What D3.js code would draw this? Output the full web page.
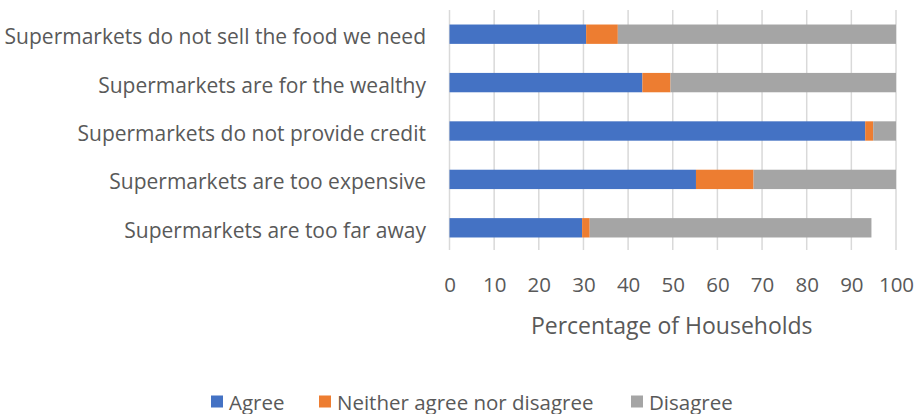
<!DOCTYPE html>
<html>
<head>
<meta charset="utf-8">
<script src="https://cdn.jsdelivr.net/npm/d3@7"></script>
<style>
  html, body { margin: 0; padding: 0; background: #fff; }
  svg text { font-family: "Open Sans", "Noto Sans", sans-serif; fill: #595959; }
</style>
</head>
<body>
<svg id="chart" width="915" height="414"></svg>
<script>
const categories = [
  "Supermarkets do not sell the food we need",
  "Supermarkets are for the wealthy",
  "Supermarkets do not provide credit",
  "Supermarkets are too expensive",
  "Supermarkets are too far away"
];
const seriesNames = ["Agree", "Neither agree nor disagree", "Disagree"];
const agree    = [30.6, 43.2, 93.1, 55.2, 29.7];
const neither  = [7.1, 6.3, 1.8, 12.9, 1.7];
const disagree = [62.3, 50.5, 5.1, 31.9, 63.1];
const xTicks = [0, 10, 20, 30, 40, 50, 60, 70, 80, 90, 100];
const colors = ["#4472c4", "#ed7d31", "#a5a5a5"];

const svg = d3.select("#chart");
const plot = { left: 449.5, right: 896, top: 10, bottom: 252 };

const x = d3.scaleLinear().domain([0, 100]).range([plot.left, plot.right]);
const y = d3.scaleBand().domain(categories).range([plot.top, plot.bottom]).paddingInner(0.6).paddingOuter(0.3);

// vertical gridlines
svg.append("g").selectAll("line").data(xTicks).join("line")
  .attr("x1", d => x(d)).attr("x2", d => x(d))
  .attr("y1", plot.top).attr("y2", plot.bottom - 2)
  .attr("stroke", "#d9d9d9").attr("stroke-width", 1.5);

// stacked bars
const rows = categories.map((c, i) => ({ cat: c, Agree: agree[i], "Neither agree nor disagree": neither[i], Disagree: disagree[i] }));
const stacked = d3.stack().keys(seriesNames)(rows);
svg.append("g").selectAll("g").data(stacked).join("g")
  .attr("fill", (d, i) => colors[i])
  .selectAll("rect").data(d => d).join("rect")
  .attr("x", d => x(d[0]))
  .attr("width", d => x(d[1]) - x(d[0]))
  .attr("y", d => y(d.data.cat))
  .attr("height", y.bandwidth());

// category labels
svg.append("g").selectAll("text").data(categories).join("text")
  .attr("x", 426).attr("y", d => y(d) + y.bandwidth() / 2 + 2)
  .attr("text-anchor", "end").attr("dominant-baseline", "central")
  .attr("font-size", 21).text(d => d);

// x tick labels
const xAxis = d3.axisBottom(x).tickValues(xTicks).tickSize(0).tickPadding(0);
const gx = svg.append("g").attr("transform", `translate(0,${plot.bottom + 25})`).call(xAxis);
gx.select(".domain").remove();
gx.selectAll("text").attr("font-size", 20.5).attr("fill", "#595959")
  .style("font-family", '"Open Sans", "Noto Sans", sans-serif');

// axis title
svg.append("text").attr("x", (plot.left + plot.right) / 2 - 1).attr("y", 325)
  .attr("text-anchor", "middle").attr("dominant-baseline", "central")
  .attr("font-size", 23).text("Percentage of Households");

// legend
const legendItems = [
  { name: seriesNames[0], color: colors[0], x: 211 },
  { name: seriesNames[1], color: colors[1], x: 319 },
  { name: seriesNames[2], color: colors[2], x: 631 }
];
const lg = svg.append("g").selectAll("g").data(legendItems).join("g")
  .attr("transform", d => `translate(${d.x},401.5)`);
lg.append("rect").attr("x", 0).attr("y", -6).attr("width", 12).attr("height", 12).attr("fill", d => d.color);
lg.append("text").attr("x", 18).attr("y", 0).attr("dominant-baseline", "central")
  .attr("font-size", 20.5).text(d => d.name);
</script>
</body>
</html>
